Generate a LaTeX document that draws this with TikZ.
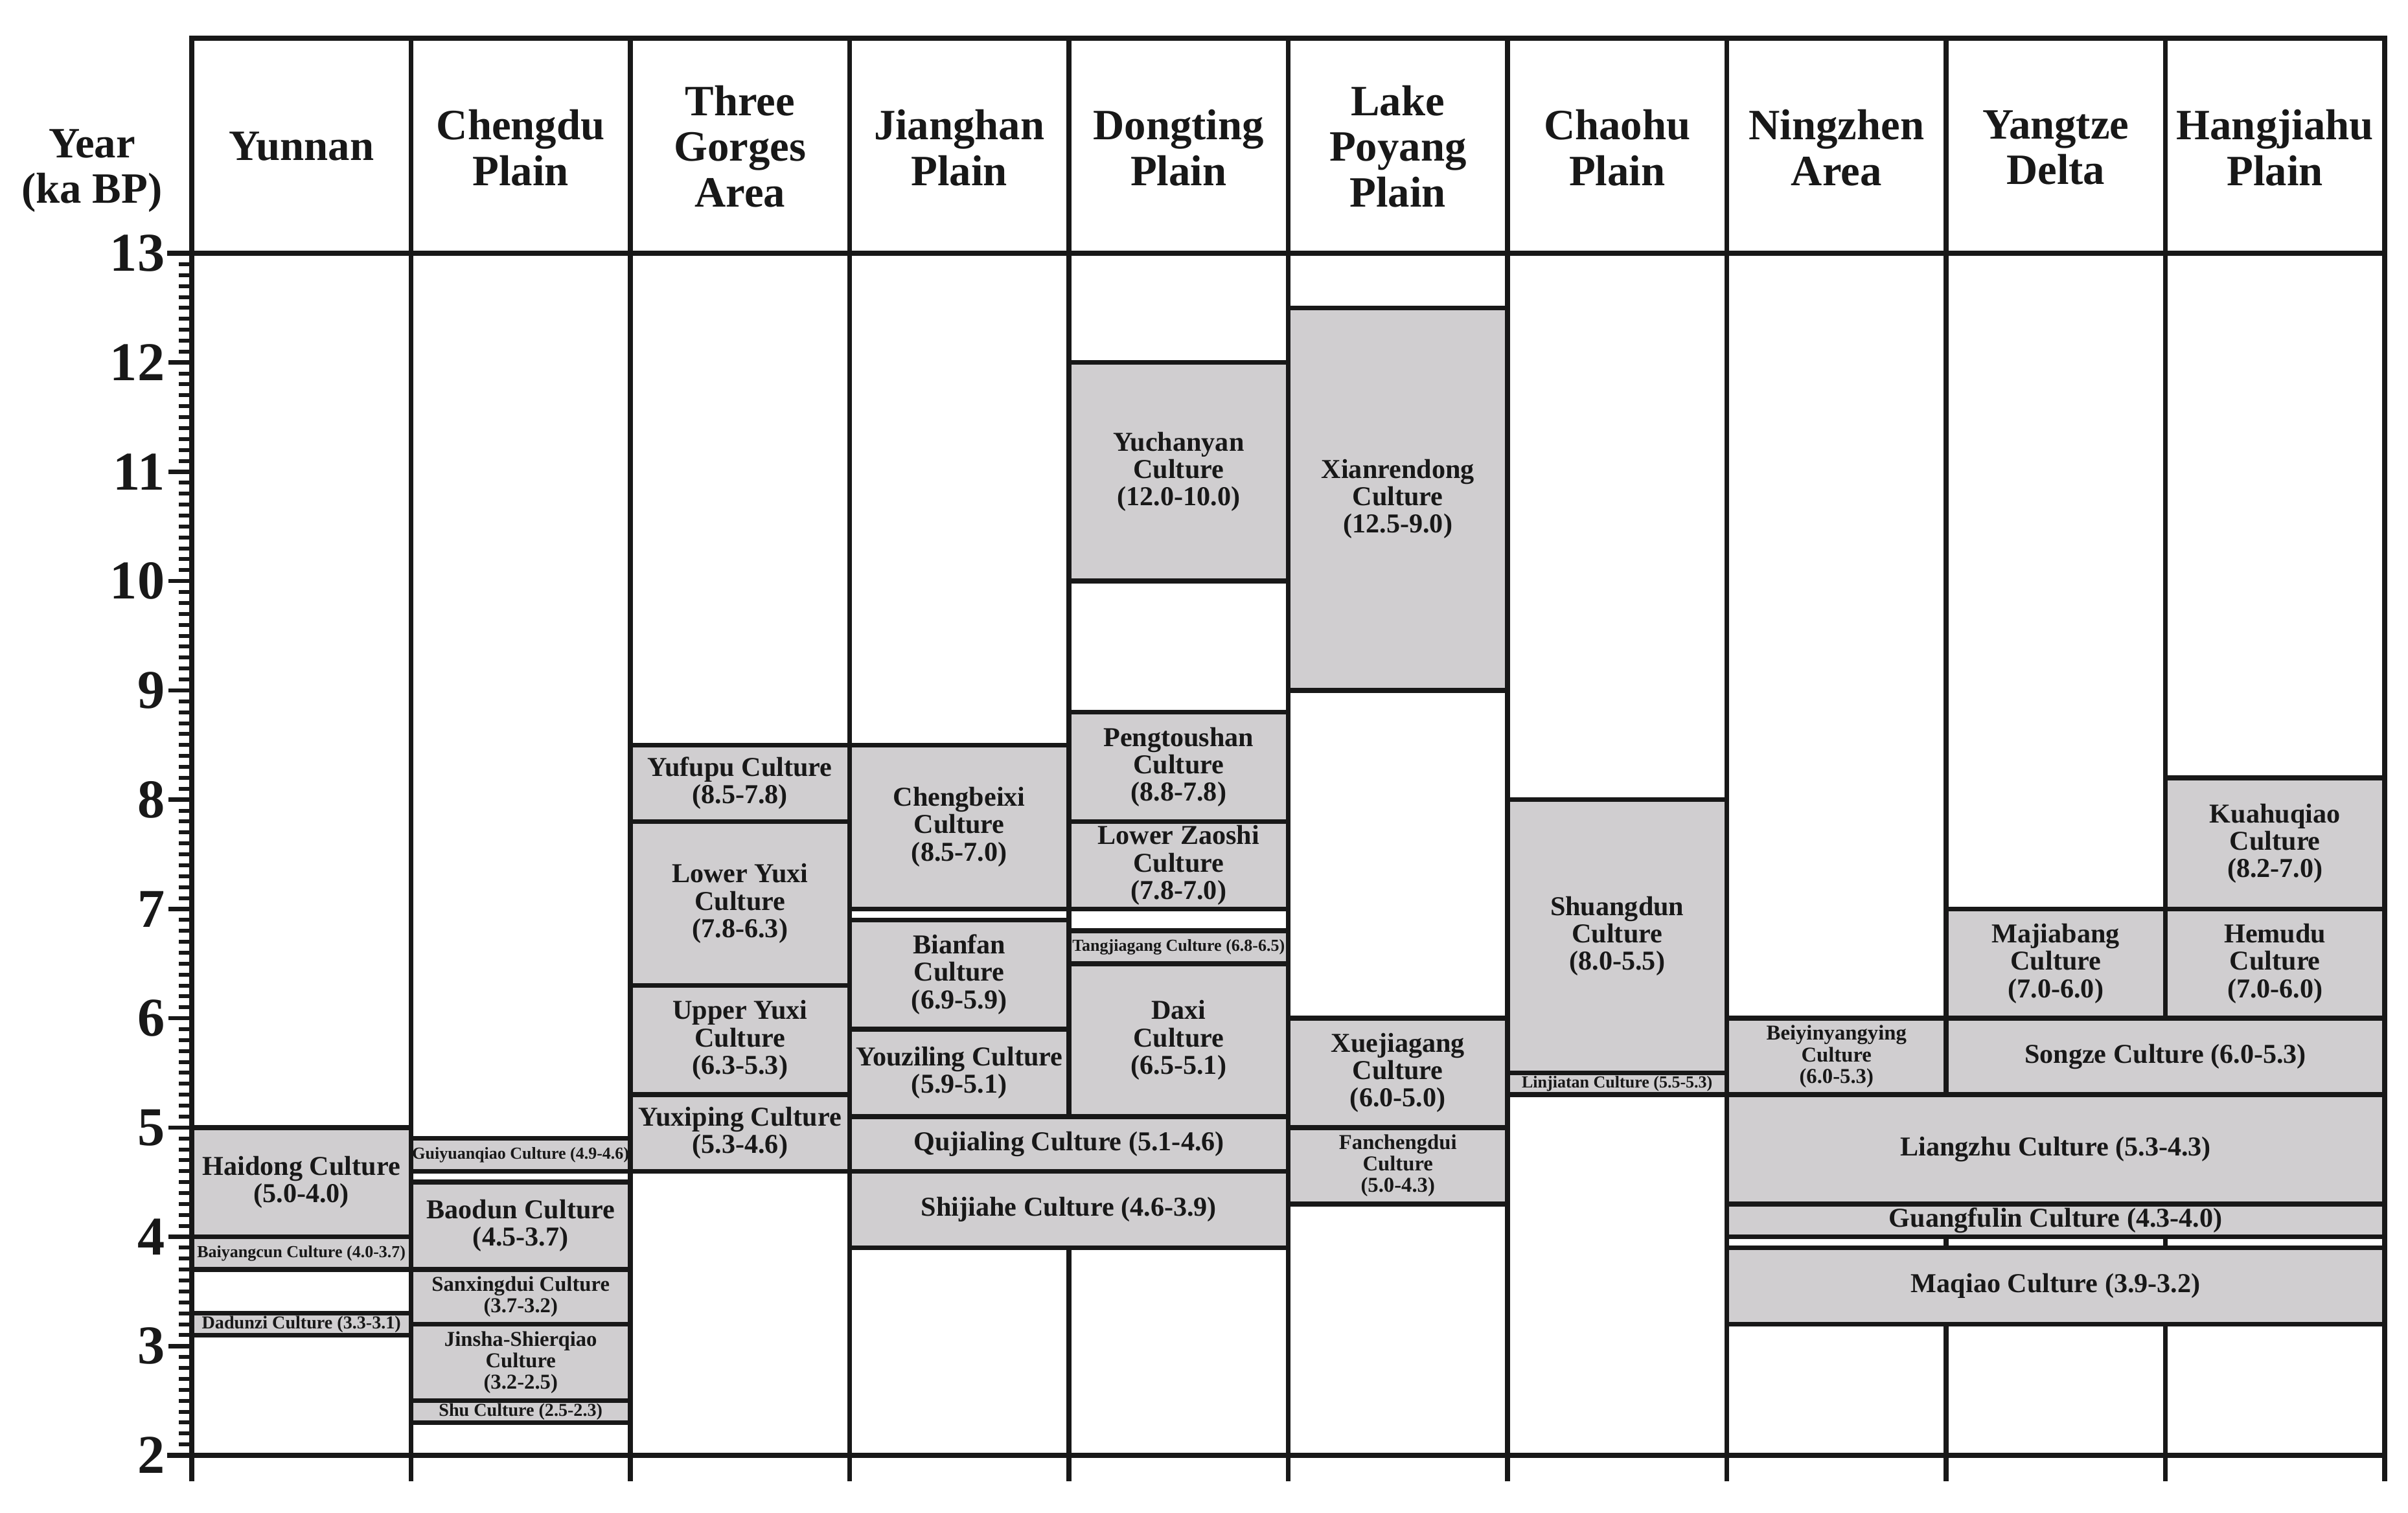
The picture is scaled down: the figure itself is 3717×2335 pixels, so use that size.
\documentclass[tikz,border=0pt]{standalone}
\usepackage{fontspec}
\setmainfont{Liberation Serif}
\definecolor{boxgray}{RGB}{208,206,208}
\definecolor{ink}{RGB}{24,24,24}
\newcommand{\fntL}{\fontsize{12}{12}\selectfont\bfseries}
\newcommand{\fntM}{\fontsize{9.3}{9.4}\selectfont\bfseries}
\newcommand{\fntS}{\fontsize{7.4}{7.4}\selectfont\bfseries}
\newcommand{\fntT}{\fontsize{8}{8}\selectfont\bfseries}
\newcommand{\fntH}{\fontsize{19}{20}\selectfont\bfseries}
\newcommand{\fntA}{\fontsize{24}{24}\selectfont\bfseries}
\newcommand{\culture}[7]{%
  \pgfmathsetmacro{\cxa}{296+#2*338.5}%
  \pgfmathsetmacro{\cxb}{296+#3*338.5}%
  \pgfmathsetmacro{\cya}{391+(13-#4)*168.727}%
  \pgfmathsetmacro{\cyb}{391+(13-#5)*168.727}%
  \node[cbox, font=#6, minimum width={(\cxb-\cxa)*0.1mm}, minimum height={(\cyb-\cya)*0.1mm}] (#1) at ({(\cxa+\cxb)/2},{(\cya+\cyb)/2}) {#7};%
}
\begin{document}
\begin{tikzpicture}[x=0.1mm,y=-0.1mm,
  gridline/.style={line width=0.75mm, draw=ink, line cap=rect},
  minortick/.style={line width=0.6mm, draw=ink},
  majortick/.style={line width=0.65mm, draw=ink},
  cbox/.style={draw=ink, fill=boxgray, line width=0.75mm, inner sep=0pt, outer sep=0pt, align=center, text=ink, line join=miter},
  header/.style={font=\fntH, align=center, text=ink, inner sep=0pt},
  axislbl/.style={font=\fntA, text=ink, inner sep=0pt, anchor=east}]
\fill[white] (0,0) rectangle (3717,2335);
\useasboundingbox (0,0) rectangle (3717,2335);

% minor ticks
\foreach \i in {20,...,130} {
  \pgfmathsetmacro{\yy}{391+(13-\i/10)*168.727}
  \draw[minortick] (276,\yy) -- (296,\yy);
}
% major ticks and labels
\foreach \n in {2,...,13} {
  \pgfmathsetmacro{\yy}{391+(13-\n)*168.727}
  \draw[majortick] (260,\yy) -- (296,\yy);
  \node[axislbl] (tick\n) at (255,\yy) {\n};
}

% column lines
\foreach \i in {0,...,10} {
  \pgfmathsetmacro{\xx}{296+\i*338.5}
  \draw[gridline] (\xx,59) -- (\xx,2283);
}
% horizontal frame lines
\draw[gridline] (296,59) -- (3681,59);
\draw[gridline] (262,391) -- (3681,391);
\draw[gridline] (262,2247) -- (3681,2247);

% axis title
\node[header] (yearlbl) at (142,264) {Year\\(ka BP)};

% headers
\node[header] (h0) at ({296+0.5*338.5},226) {Yunnan};
\node[header] (h1) at ({296+1.5*338.5},228) {Chengdu\\Plain};
\node[header] (h2) at ({296+2.5*338.5},226) {Three\\Gorges\\Area};
\node[header] (h3) at ({296+3.5*338.5},228) {Jianghan\\Plain};
\node[header] (h4) at ({296+4.5*338.5},228) {Dongting\\Plain};
\node[header] (h5) at ({296+5.5*338.5},226) {Lake\\Poyang\\Plain};
\node[header] (h6) at ({296+6.5*338.5},228) {Chaohu\\Plain};
\node[header] (h7) at ({296+7.5*338.5},228) {Ningzhen\\Area};
\node[header] (h8) at ({296+8.5*338.5},228) {Yangtze\\Delta};
\node[header] (h9) at ({296+9.5*338.5},228) {Hangjiahu\\Plain};

% cultures
\culture{haidong}{0}{1}{5.0}{4.0}{\fntL}{Haidong Culture\\(5.0-4.0)}
\culture{baiyangcun}{0}{1}{4.0}{3.7}{\fntS}{Baiyangcun Culture (4.0-3.7)}
\culture{dadunzi}{0}{1}{3.3}{3.1}{\fntT}{Dadunzi Culture (3.3-3.1)}
\culture{guiyuanqiao}{1}{2}{4.9}{4.6}{\fntS}{Guiyuanqiao Culture (4.9-4.6)}
\culture{baodun}{1}{2}{4.5}{3.7}{\fntL}{Baodun Culture\\(4.5-3.7)}
\culture{sanxingdui}{1}{2}{3.7}{3.2}{\fntM}{Sanxingdui Culture\\(3.7-3.2)}
\culture{jinsha}{1}{2}{3.2}{2.5}{\fntM}{Jinsha-Shierqiao\\Culture\\(3.2-2.5)}
\culture{shu}{1}{2}{2.5}{2.3}{\fntT}{Shu Culture (2.5-2.3)}
\culture{yufupu}{2}{3}{8.5}{7.8}{\fntL}{Yufupu Culture\\(8.5-7.8)}
\culture{loweryuxi}{2}{3}{7.8}{6.3}{\fntL}{Lower Yuxi\\Culture\\(7.8-6.3)}
\culture{upperyuxi}{2}{3}{6.3}{5.3}{\fntL}{Upper Yuxi\\Culture\\(6.3-5.3)}
\culture{yuxiping}{2}{3}{5.3}{4.6}{\fntL}{Yuxiping Culture\\(5.3-4.6)}
\culture{chengbeixi}{3}{4}{8.5}{7.0}{\fntL}{Chengbeixi\\Culture\\(8.5-7.0)}
\culture{bianfan}{3}{4}{6.9}{5.9}{\fntL}{Bianfan\\Culture\\(6.9-5.9)}
\culture{youziling}{3}{4}{5.9}{5.1}{\fntL}{Youziling Culture\\(5.9-5.1)}
\culture{qujialing}{3}{5}{5.1}{4.6}{\fntL}{Qujialing Culture (5.1-4.6)}
\culture{shijiahe}{3}{5}{4.6}{3.9}{\fntL}{Shijiahe Culture (4.6-3.9)}
\culture{yuchanyan}{4}{5}{12.0}{10.0}{\fntL}{Yuchanyan\\Culture\\(12.0-10.0)}
\culture{pengtoushan}{4}{5}{8.8}{7.8}{\fntL}{Pengtoushan\\Culture\\(8.8-7.8)}
\culture{lowerzaoshi}{4}{5}{7.8}{7.0}{\fntL}{Lower Zaoshi\\Culture\\(7.8-7.0)}
\culture{tangjiagang}{4}{5}{6.8}{6.5}{\fntS}{Tangjiagang Culture (6.8-6.5)}
\culture{daxi}{4}{5}{6.5}{5.1}{\fntL}{Daxi\\Culture\\(6.5-5.1)}
\culture{xianrendong}{5}{6}{12.5}{9.0}{\fntL}{Xianrendong\\Culture\\(12.5-9.0)}
\culture{xuejiagang}{5}{6}{6.0}{5.0}{\fntL}{Xuejiagang\\Culture\\(6.0-5.0)}
\culture{fanchengdui}{5}{6}{5.0}{4.3}{\fntM}{Fanchengdui\\Culture\\(5.0-4.3)}
\culture{shuangdun}{6}{7}{8.0}{5.5}{\fntL}{Shuangdun\\Culture\\(8.0-5.5)}
\culture{linjiatan}{6}{7}{5.5}{5.3}{\fntS}{Linjiatan Culture (5.5-5.3)}
\culture{beiyinyangying}{7}{8}{6.0}{5.3}{\fntM}{Beiyinyangying\\Culture\\(6.0-5.3)}
\culture{liangzhu}{7}{10}{5.3}{4.3}{\fntL}{Liangzhu Culture (5.3-4.3)}
\culture{guangfulin}{7}{10}{4.3}{4.0}{\fntL}{Guangfulin Culture (4.3-4.0)}
\culture{maqiao}{7}{10}{3.9}{3.2}{\fntL}{Maqiao Culture (3.9-3.2)}
\culture{majiabang}{8}{9}{7.0}{6.0}{\fntL}{Majiabang\\Culture\\(7.0-6.0)}
\culture{songze}{8}{10}{6.0}{5.3}{\fntL}{Songze Culture (6.0-5.3)}
\culture{kuahuqiao}{9}{10}{8.2}{7.0}{\fntL}{Kuahuqiao\\Culture\\(8.2-7.0)}
\culture{hemudu}{9}{10}{7.0}{6.0}{\fntL}{Hemudu\\Culture\\(7.0-6.0)}
\end{tikzpicture}
\end{document}
